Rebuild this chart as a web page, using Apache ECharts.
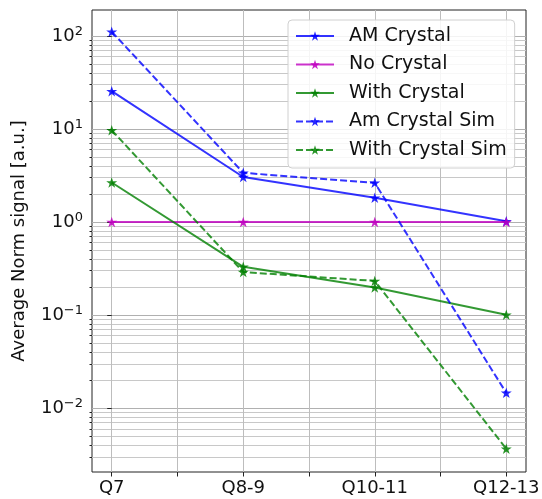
<!DOCTYPE html>
<html>
<head>
<meta charset="utf-8">
<script src="https://cdn.jsdelivr.net/npm/echarts@6/dist/echarts.min.js"></script>
<style>html,body{margin:0;padding:0;background:#fff;}#c{width:542px;height:499px;}</style>
</head>
<body>
<div id="c"></div>
<script>
// ---- data ----
const categories = ['Q7', 'Q8-9', 'Q10-11', 'Q12-13'];
const amCrystal = [25.5, 3.05, 1.82, 1.02];
const noCrystal = [1.0, 1.0, 1.0, 1.0];
const withCrystal = [2.66, 0.33, 0.198, 0.101];
const amCrystalSim = [111, 3.38, 2.64, 0.0146];
const withCrystalSim = [9.7, 0.29, 0.233, 0.00366];
const seriesNames = ['AM Crystal', 'No Crystal', 'With Crystal', 'Am Crystal Sim', 'With Crystal Sim'];
const yMajorTicks = [0.01, 0.1, 1, 10, 100];
const xTickPositions = [0, 0.5, 1, 1.5, 2, 2.5, 3];
const xLabelPositions = [0, 1, 2, 3];

// minor log ticks (gridline positions)
const yMinorTicks = [];
[-3, -2, -1, 0, 1, 2].forEach(e => {
  for (let m = 2; m <= 9; m++) {
    const v = m * Math.pow(10, e);
    if (v > 0.00206 && v < 190) yMinorTicks.push(+v.toPrecision(3));
  }
});

const FONT = 'DejaVu Sans';
const STAR = 'path://M50 0 L61.23 34.55 L97.55 34.55 L68.17 55.9 L79.39 90.45 L50 69.1 L20.61 90.45 L31.83 55.9 L2.45 34.55 L38.77 34.55 Z';

function mk(name, vals, color, dashed) {
  return {
    name: name,
    type: 'line',
    data: vals.map((v, i) => [i, v]),
    symbol: STAR,
    symbolSize: [11, 10.5],
    showSymbol: true,
    color: color,
    itemStyle: {color: color, opacity: 0.85},
    lineStyle: {color: color, width: 2, type: dashed ? [7, 3] : 'solid', opacity: 0.8},
    emphasis: {disabled: true},
    animation: false,
    clip: false,
    z: 3
  };
}

function supLabel(v) {
  const e = Math.round(Math.log10(v));
  const es = e < 0 ? '\u2212' + Math.abs(e) : String(e);
  return '{b|10}{e|' + es + '}';
}

const chart = echarts.init(document.getElementById('c'), null, {renderer: 'canvas'});
chart.setOption({
  animation: false,
  backgroundColor: '#fff',
  textStyle: {fontFamily: FONT},
  grid: {left: 92, top: 10, right: 16, bottom: 27, show: true, borderColor: '#222', borderWidth: 1,
    containLabel: false, outerBoundsMode: 'none'},
  legend: {
    data: seriesNames,
    orient: 'vertical',
    left: 288, top: 20,
    padding: [6.5, 8, 8.5, 7],
    itemWidth: 38, itemHeight: 12, itemGap: 9.5,
    backgroundColor: 'rgba(255,255,255,0.85)',
    borderColor: '#d0d0d0', borderWidth: 1, borderRadius: 4,
    textStyle: {fontFamily: FONT, fontSize: 19, color: '#111', lineHeight: 19, padding: [0, 0, 0, 10]},
    selectedMode: false
  },
  xAxis: {
    type: 'value', min: -0.15, max: 3.15,
    axisLine: {show: false},
    axisTick: {show: true, length: 4.5, inside: false, customValues: xTickPositions, lineStyle: {color: '#222'}},
    axisLabel: {show: true, customValues: xLabelPositions, margin: 7, fontSize: 18, fontFamily: FONT, color: '#111',
      formatter: v => categories[Math.round(v)] || ''},
    splitLine: {show: true, lineStyle: {color: '#bdbdbd', width: 1}}
  },
  yAxis: [{
    type: 'log', logBase: 10, min: 0.00206, max: 190,
    name: 'Average Norm signal [a.u.]', nameLocation: 'middle', nameGap: 64, nameRotate: 90,
    nameTextStyle: {fontSize: 18, fontFamily: FONT, color: '#111'},
    axisLine: {show: false},
    axisTick: {show: true, length: 4.5, customValues: yMajorTicks, lineStyle: {color: '#222'}},
    axisLabel: {show: true, customValues: yMajorTicks, margin: 9, formatter: supLabel,
      rich: {
        b: {fontSize: 18, fontFamily: FONT, color: '#111'},
        e: {fontSize: 13, fontFamily: FONT, color: '#111', padding: [0, 0, 9, 0]}
      }},
    splitLine: {show: true, lineStyle: {color: '#b0b0b0', width: 1}}
  }, {
    type: 'log', logBase: 10, min: 0.00206, max: 190, position: 'left',
    axisLine: {show: false},
    axisTick: {show: true, length: 2.5, customValues: yMinorTicks, lineStyle: {color: '#222'}},
    axisLabel: {show: false},
    splitLine: {show: true, lineStyle: {color: '#c8c8c8', width: 1}}
  }],
  series: [
    mk(seriesNames[0], amCrystal, '#0000ff', false),
    mk(seriesNames[1], noCrystal, '#bf00bf', false),
    mk(seriesNames[2], withCrystal, '#008000', false),
    mk(seriesNames[3], amCrystalSim, '#0000ff', true),
    mk(seriesNames[4], withCrystalSim, '#008000', true)
  ]
});
</script>
</body>
</html>
